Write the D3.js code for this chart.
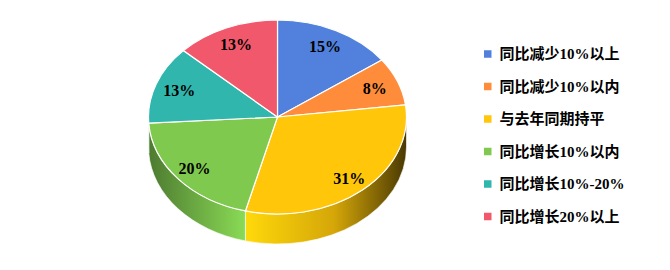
<!DOCTYPE html>
<html>
<head>
<meta charset="utf-8">
<script src="https://cdn.jsdelivr.net/npm/d3@7"></script>
<style>
    body { margin: 0; background: #fff; }
    svg text { font-family: "Times New Roman", "Liberation Serif", "Noto Sans CJK SC", serif; font-weight: bold; }
</style>
</head>
<body>
<div id="chart"></div>
<script>
const categories = ["同比减少10%以上", "同比减少10%以内", "与去年同期持平", "同比增长10%以内", "同比增长10%-20%", "同比增长20%以上"];
const values = [15, 8, 31, 20, 13, 13];
const colors = ["#5181DC", "#FF8C3B", "#FFC60A", "#7FC94F", "#30B6AC", "#F2586B"];

const width = 670;
const height = 270;
const cx = 277.5, cy = 117;
const rx = 129, ry = 97;
const depth = 30;
const k = ry / rx;

const svg = d3.select("#chart")
    .append("svg")
        .attr("width", width)
        .attr("height", height);

const defs = svg.append("defs");

const data = categories.map((c, i) => ({ name: c, value: values[i], color: colors[i] }));
const pie = d3.pie().sort(null).value(d => d.value);
const arcs = pie(data);

// side gradients, across the whole pie width
arcs.forEach((a, i) => {
    const c = d3.color(a.data.color);
    const g = defs.append("linearGradient")
        .attr("id", "side" + i)
        .attr("gradientUnits", "userSpaceOnUse")
        .attr("x1", -rx).attr("x2", rx)
        .attr("y1", 0).attr("y2", 0);
    g.append("stop").attr("offset", 0).attr("stop-color", c.darker(1.4));
    g.append("stop").attr("offset", 0.38).attr("stop-color", c.brighter(0.25));
    g.append("stop").attr("offset", 0.72).attr("stop-color", c.darker(0.5));
    g.append("stop").attr("offset", 1).attr("stop-color", c.darker(3.5));
});

const pieG = svg.append("g")
    .attr("transform", `translate(${cx},${cy}) scale(1,${k})`);

// outer wall, front half only (angles between PI/2 and 3PI/2)
const D = depth / k;
arcs.forEach((a, i) => {
    const s = Math.max(a.startAngle, Math.PI / 2);
    const e = Math.min(a.endAngle, Math.PI * 1.5);
    if (e <= s) return;
    const p = d3.path();
    p.moveTo(rx * Math.sin(s), -rx * Math.cos(s));
    p.arc(0, 0, rx, s - Math.PI / 2, e - Math.PI / 2, false);
    p.lineTo(rx * Math.sin(e), -rx * Math.cos(e) + D);
    p.arc(0, D, rx, e - Math.PI / 2, s - Math.PI / 2, true);
    p.closePath();
    pieG.append("path")
        .attr("d", p.toString())
        .attr("fill", `url(#side${i})`)
        .attr("stroke", "#fff")
        .attr("stroke-width", 0.8)
        .attr("stroke-opacity", 0.8)
        .attr("vector-effect", "non-scaling-stroke");
});

// top face
const arc = d3.arc().innerRadius(0).outerRadius(rx);
pieG.selectAll("path.top")
    .data(arcs)
    .join("path")
        .attr("class", "top")
        .attr("d", arc)
        .attr("fill", d => d.data.color)
        .attr("stroke", "#fff")
        .attr("stroke-width", 1.2)
        .attr("vector-effect", "non-scaling-stroke");

// labels
function labelPos(d) {
    const m = (d.startAngle + d.endAngle) / 2;
    const r = 0.81 + 0.04 * Math.max(0, -Math.cos(m));
    return [cx + rx * r * Math.sin(m), cy - ry * r * Math.cos(m)];
}

svg.append("g")
    .selectAll("text")
    .data(arcs)
    .join("text")
        .attr("x", d => labelPos(d)[0])
        .attr("y", d => labelPos(d)[1])
        .attr("text-anchor", "middle")
        .attr("dominant-baseline", "central")
        .attr("font-size", 16)
        .attr("fill", "#000")
        .text(d => d.data.value + "%");

// legend
const legend = svg.append("g")
    .attr("transform", "translate(484,54)");

const row = legend.selectAll("g")
    .data(data)
    .join("g")
        .attr("transform", (d, i) => `translate(0,${i * 32.5})`);

row.append("rect")
    .attr("x", 0)
    .attr("y", -3.75)
    .attr("width", 7.5)
    .attr("height", 7.5)
    .attr("fill", d => d.color);

row.append("text")
    .attr("x", 15.5)
    .attr("y", 0)
    .attr("dominant-baseline", "central")
    .attr("font-size", 15)
    .attr("fill", "#000")
    .text(d => d.name);
</script>
</body>
</html>
